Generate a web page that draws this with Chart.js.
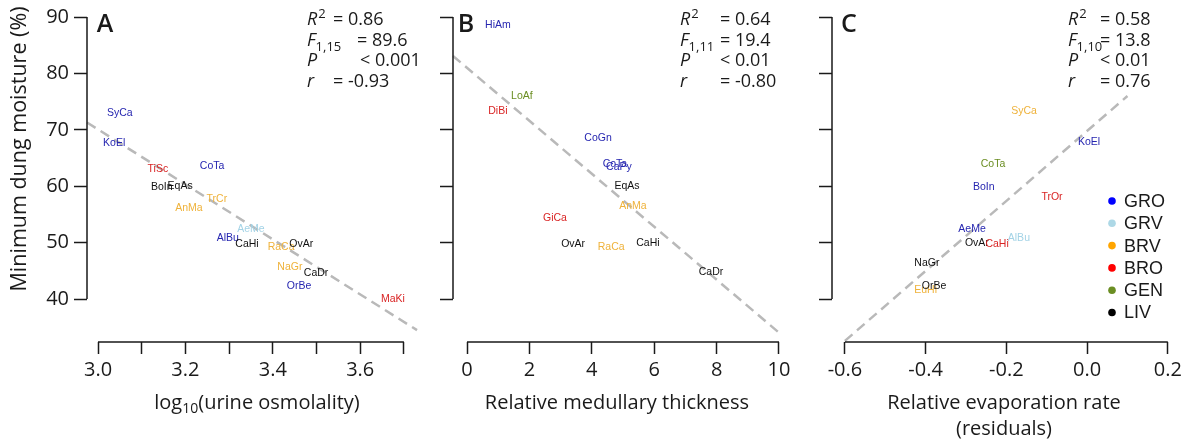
<!DOCTYPE html>
<html>
<head>
<meta charset="utf-8">
<script src="https://cdn.jsdelivr.net/npm/chart.js@4.4.1/dist/chart.umd.min.js"></script>
<style>
body { margin: 0; background: #fff; width: 1189px; height: 441px; position: relative; overflow: hidden; }
canvas { position: absolute; top: 0; }
</style>
</head>
<body>
<canvas id="chartA" width="430" height="441" style="left:0px"></canvas>
<canvas id="chartB" width="380" height="441" style="left:430px"></canvas>
<canvas id="chartC" width="379" height="441" style="left:810px"></canvas>
<script>
// label colours per group
const groupColors = { GRO: '#2626b0', GRV: '#a3d3e6', BRV: '#efb23a', BRO: '#d92424', GEN: '#6b8e23', LIV: '#111111' }
const legendGroups = ['GRO', 'GRV', 'BRV', 'BRO', 'GEN', 'LIV']
const legendDots = ['#0000ff', '#add8e6', '#ffa500', '#ff0000', '#6b8e23', '#000000']

const yTicks = [40, 50, 60, 70, 80, 90]
const yLabels = ['40', '50', '60', '70', '80', '90']

// A: log10(urine osmolality)
const aNames = ['SyCa', 'KoEl', 'TiSc', 'CoTa', 'BoIn', 'EqAs', 'TrCr', 'AnMa', 'AeMe', 'AlBu', 'CaHi', 'RaCa', 'OvAr', 'NaGr', 'CaDr', 'OrBe', 'MaKi']
const aGroups = ['GRO', 'GRO', 'BRO', 'GRO', 'LIV', 'LIV', 'BRV', 'BRV', 'GRV', 'GRO', 'LIV', 'BRV', 'LIV', 'BRV', 'LIV', 'GRO', 'BRO']
const aX = [3.05, 3.037, 3.137, 3.261, 3.146, 3.188, 3.272, 3.208, 3.35, 3.297, 3.341, 3.419, 3.465, 3.439, 3.499, 3.46, 3.675]
const aY = [72.9, 67.6, 63.0, 63.5, 59.8, 60.0, 57.8, 56.1, 52.4, 50.8, 49.7, 49.2, 49.7, 45.7, 44.6, 42.3, 40.0]
const aFitX = [2.975, 3.73]
const aFitY = [71.3, 34.5]
const aTicks = [3.0, 3.1, 3.2, 3.3, 3.4, 3.5, 3.6, 3.7]
const aTickLabels = ['3.0', '', '3.2', '', '3.4', '', '3.6', '']
const aStats = ['= 0.86', '= 89.6', '< 0.001', '= -0.93']

// B: relative medullary thickness
const bNames = ['HiAm', 'LoAf', 'DiBi', 'CoGn', 'CoTa', 'CaPy', 'EqAs', 'AnMa', 'GiCa', 'OvAr', 'RaCa', 'CaHi', 'CaDr']
const bGroups = ['GRO', 'GEN', 'BRO', 'GRO', 'GRO', 'GRO', 'LIV', 'BRV', 'BRO', 'LIV', 'BRV', 'LIV', 'LIV']
const bX = [0.99, 1.76, 0.99, 4.2, 4.74, 4.87, 5.13, 5.32, 2.82, 3.4, 4.62, 5.8, 7.82]
const bY = [88.6, 75.9, 73.4, 68.6, 63.9, 63.4, 60.1, 56.4, 54.3, 49.7, 49.2, 49.9, 44.8]
const bFitX = [-0.45, 9.97]
const bFitY = [83.1, 34.2]
const bTicks = [0, 2, 4, 6, 8, 10]
const bTickLabels = ['0', '2', '4', '6', '8', '10']
const bStats = ['= 0.64', '= 19.4', '< 0.01', '= -0.80']

// C: relative evaporation rate (residuals)
const cNames = ['SyCa', 'KoEl', 'CoTa', 'BoIn', 'TrOr', 'AeMe', 'OvAr', 'CaHi', 'AlBu', 'NaGr', 'EuHi', 'OrBe']
const cGroups = ['BRV', 'GRO', 'GEN', 'GRO', 'BRO', 'GRO', 'LIV', 'BRO', 'GRV', 'LIV', 'BRV', 'LIV']
const cX = [-0.156, 0.005, -0.233, -0.256, -0.087, -0.285, -0.273, -0.223, -0.169, -0.397, -0.4, -0.379]
const cY = [73.4, 67.9, 63.9, 59.8, 58.0, 52.4, 49.9, 49.7, 50.8, 46.4, 41.6, 42.3]
const cFitX = [-0.6, 0.1]
const cFitY = [32.6, 76.0]
const cTicks = [-0.6, -0.4, -0.2, 0.0, 0.2]
const cTickLabels = ['-0.6', '-0.4', '-0.2', '0.0', '0.2']
const cStats = ['= 0.58', '= 13.8', '< 0.01', '= 0.76']

const FONT = 'Open Sans'
const INK = '#1a1a1a'

function drawStats(ctx, p, values) {
    const rows = [20, 41, 61, 82]
    ctx.fillStyle = INK
    ctx.textBaseline = 'middle'
    ctx.textAlign = 'left'
    const it = `italic 18px "${FONT}"`
    const sm = `13px "${FONT}"`
    // R^2
    ctx.font = it
    ctx.fillText('R', p.statX, rows[0])
    let w = ctx.measureText('R').width
    ctx.font = sm
    ctx.fillText('2', p.statX + w + 1, rows[0] - 6)
    // F with subscript
    ctx.font = it
    ctx.fillText('F', p.statX, rows[1])
    w = ctx.measureText('F').width
    ctx.font = sm
    ctx.fillText(p.fSub, p.statX + w, rows[1] + 6)
    ctx.font = it
    ctx.fillText('P', p.statX, rows[2])
    ctx.fillText('r', p.statX, rows[3])
    ctx.font = `18px "${FONT}"`
    values.forEach((v, i) => ctx.fillText(v, p.valX[i], rows[i]))
}

function makePanel(id, p) {
    const panelPlugin = {
        id: 'panel' + id,
        afterDatasetsDraw(chart) {
            const ctx = chart.ctx
            const meta = chart.getDatasetMeta(1)
            ctx.save()
            ctx.font = '10.5px "Liberation Sans"'
            ctx.textAlign = 'center'
            ctx.textBaseline = 'middle'
            meta.data.forEach((pt, i) => {
                ctx.fillStyle = groupColors[p.groups[i]]
                ctx.fillText(p.names[i], pt.x, pt.y)
            })
            ctx.restore()
        },
        afterDraw(chart) {
            const ctx = chart.ctx
            const sx = chart.scales.x
            const sy = chart.scales.y
            const area = chart.chartArea
            ctx.save()
            // detached axis lines, first tick to last tick
            ctx.strokeStyle = INK
            ctx.lineWidth = 1.5
            ctx.beginPath()
            ctx.moveTo(area.left, sy.getPixelForValue(yTicks[0]))
            ctx.lineTo(area.left, sy.getPixelForValue(yTicks[yTicks.length - 1]))
            ctx.moveTo(sx.getPixelForValue(p.xTicks[0]), area.bottom)
            ctx.lineTo(sx.getPixelForValue(p.xTicks[p.xTicks.length - 1]), area.bottom)
            ctx.stroke()

            // panel letter
            ctx.fillStyle = INK
            ctx.font = `600 25px "${FONT}"`
            ctx.textAlign = 'center'
            ctx.textBaseline = 'middle'
            ctx.fillText(p.letter, p.letterX, 25)

            drawStats(ctx, p, p.stats)

            // x title
            ctx.fillStyle = INK
            ctx.textBaseline = 'middle'
            ctx.font = `20px "${FONT}"`
            if (p.sub) {
                const parts = [['log', 20, 0], ['10', 14, 6], ['(urine osmolality)', 20, 0]]
                let total = 0
                parts.forEach(q => { ctx.font = `${q[1]}px "${FONT}"`; total += ctx.measureText(q[0]).width })
                let x = p.titleX - total / 2
                ctx.textAlign = 'left'
                parts.forEach(q => {
                    ctx.font = `${q[1]}px "${FONT}"`
                    ctx.fillText(q[0], x, 403 + q[2])
                    x += ctx.measureText(q[0]).width
                })
            } else {
                ctx.textAlign = 'center'
                p.title.forEach((t, i) => ctx.fillText(t, p.titleX, 403 + i * 26))
            }

            // y title
            if (p.yTitle) {
                ctx.save()
                ctx.translate(20, 149)
                ctx.rotate(-Math.PI / 2)
                ctx.textAlign = 'center'
                ctx.font = `21.5px "${FONT}"`
                ctx.fillText(p.yTitle, 0, 0)
                ctx.restore()
            }

            // legend
            if (p.legend) {
                ctx.font = '18px "Liberation Sans"'
                ctx.textAlign = 'left'
                legendGroups.forEach((g, i) => {
                    const y = 201 + i * 22.3
                    ctx.fillStyle = legendDots[i]
                    ctx.beginPath()
                    ctx.arc(p.legendX, y, 3.8, 0, Math.PI * 2)
                    ctx.fill()
                    ctx.fillStyle = INK
                    ctx.fillText(g, p.legendX + 12, y + 1)
                })
            }
            ctx.restore()
        }
    }

    const tickFont = { family: FONT, size: 20 }
    new Chart(document.getElementById(id), {
        type: 'scatter',
        data: {
            datasets: [
                {
                    data: p.fitX.map((x, i) => ({ x, y: p.fitY[i] })),
                    showLine: true,
                    borderColor: '#b9b9b9',
                    borderWidth: 2.5,
                    borderDash: [10, 6],
                    pointRadius: 0,
                    clip: false
                },
                {
                    data: p.xs.map((x, i) => ({ x, y: p.ys[i] })),
                    pointRadius: 0,
                    pointHoverRadius: 0
                }
            ]
        },
        options: {
            responsive: false,
            animation: false,
            events: [],
            layout: { padding: { top: 16, right: p.padRight, left: 0, bottom: 0 } },
            plugins: { legend: { display: false }, tooltip: { enabled: false } },
            scales: {
                x: {
                    type: 'linear',
                    min: p.xMin,
                    max: p.xMax,
                    afterBuildTicks: s => { s.ticks = p.xTicks.map(v => ({ value: v })) },
                    afterFit: s => { s.height = 99 },
                    border: { display: false },
                    grid: { drawOnChartArea: false, drawTicks: true, tickLength: 12, tickWidth: 1.5, tickColor: INK, color: INK },
                    ticks: { autoSkip: false, maxRotation: 0, padding: 4, font: tickFont, color: INK, callback: (v, i) => p.xLabels[i] }
                },
                y: {
                    type: 'linear',
                    min: 32.4,
                    max: 90,
                    afterBuildTicks: s => { s.ticks = yTicks.map(v => ({ value: v })) },
                    afterFit: s => { s.width = p.yWidth },
                    border: { display: false },
                    grid: { drawOnChartArea: false, drawTicks: true, tickLength: 13, tickWidth: 1.5, tickColor: INK, color: INK },
                    ticks: { padding: 5, font: tickFont, color: INK, callback: (v, i) => p.yTickText ? yLabels[i] : '' }
                }
            }
        },
        plugins: [panelPlugin]
    })
}

makePanel('chartA', {
    names: aNames, groups: aGroups, xs: aX, ys: aY, fitX: aFitX, fitY: aFitY,
    xTicks: aTicks, xLabels: aTickLabels, xMin: 2.9748, xMax: 3.7414,
    yWidth: 87, padRight: 8, yTickText: true,
    letter: 'A', letterX: 105, stats: aStats, statX: 307, valX: [333, 357, 360, 333], fSub: '1,15',
    sub: true, titleX: 257, yTitle: 'Minimum dung moisture (%)'
})
makePanel('chartB', {
    names: bNames, groups: bGroups, xs: bX, ys: bY, fitX: bFitX, fitY: bFitY,
    xTicks: bTicks, xLabels: bTickLabels, xMin: -0.449, xMax: 10.513,
    yWidth: 23, padRight: 15, yTickText: false,
    letter: 'B', letterX: 36, stats: bStats, statX: 250, valX: [290, 290, 290, 290], fSub: '1,11',
    title: ['Relative medullary thickness'], titleX: 187
})
makePanel('chartC', {
    names: cNames, groups: cGroups, xs: cX, ys: cY, fitX: cFitX, fitY: cFitY,
    xTicks: cTicks, xLabels: cTickLabels, xMin: -0.632, xMax: 0.2302,
    yWidth: 22, padRight: 9, yTickText: false,
    letter: 'C', letterX: 39, stats: cStats, statX: 258, valX: [290, 290, 290, 290], fSub: '1,10',
    title: ['Relative evaporation rate', '(residuals)'], titleX: 194,
    legend: true, legendX: 302
})
</script>
</body>
</html>
